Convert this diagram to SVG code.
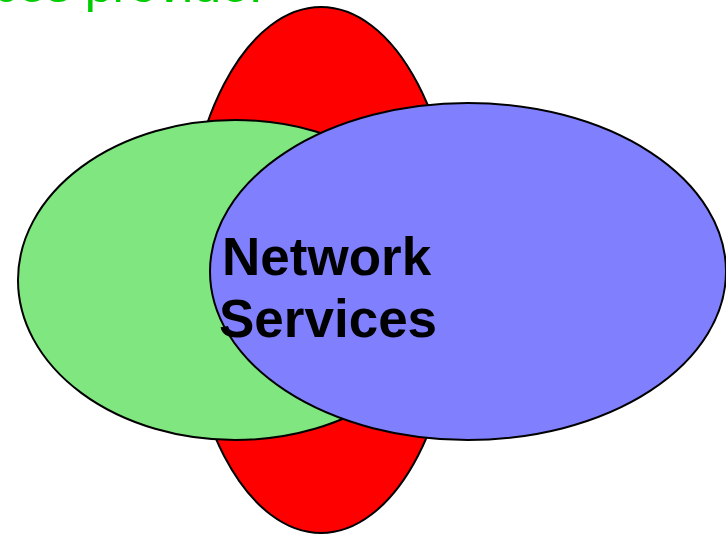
<svg xmlns="http://www.w3.org/2000/svg" width="726" height="535" viewBox="0 0 726 535">
<style>
.shape{stroke:#000;stroke-width:2}
.title{font-family:"Liberation Sans",Arial,sans-serif;font-size:50px;fill:#00cc00}
.label{font-family:"Liberation Sans",Arial,sans-serif;font-size:53px;font-weight:bold;fill:#000}
</style>
<rect width="726" height="535" fill="#fff"/>
<text class="title" x="-18" y="2">ices provide:</text>
<g id="red">
<ellipse class="shape" cx="321" cy="270" rx="137" ry="263" fill="#ff0000"/>
</g>
<g id="green">
<ellipse class="shape" cx="235" cy="280" rx="217" ry="160" fill="#80e680"/>
</g>
<g id="blue">
<ellipse class="shape" cx="468" cy="271.5" rx="258" ry="168.5" fill="#8080ff"/>
</g>
<g id="label">
<text class="label" x="222" y="275">Network</text>
<text class="label" x="219" y="337">Services</text>
</g>
<g id="connectors"/>
</svg>
